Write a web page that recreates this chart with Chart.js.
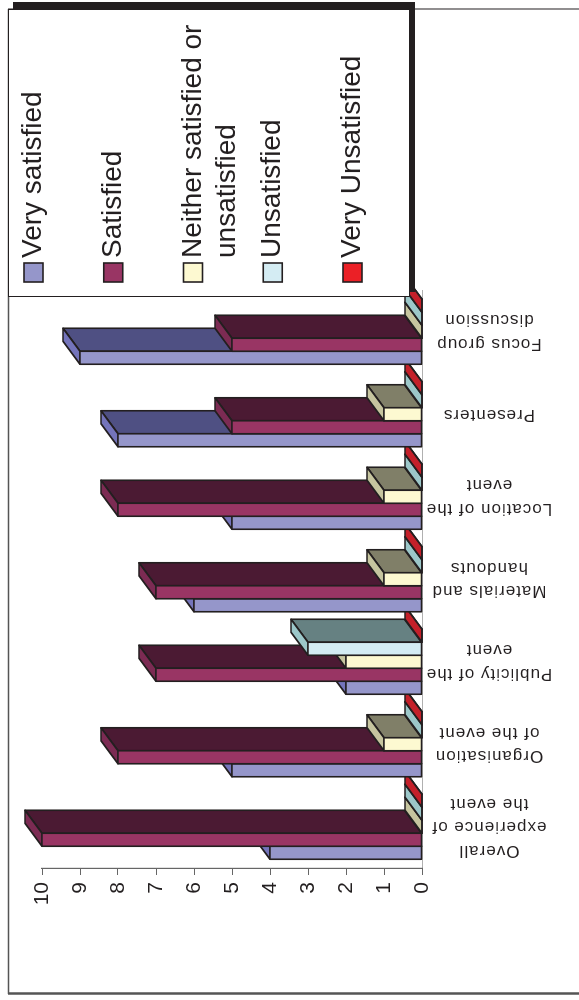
<!DOCTYPE html>
<html>
<head>
<meta charset="utf-8">
<title>Event feedback</title>
<script src="https://cdn.jsdelivr.net/npm/chart.js@4.4.1/dist/chart.umd.min.js"></script>
<style>
  html, body { margin: 0; padding: 0; background: #ffffff; overflow: hidden; }
  #page { position: relative; width: 579px; height: 1000px; overflow: hidden; background: #ffffff; }
  /* the chart is laid out landscape and turned a quarter turn counter-clockwise */
  #chart { position: absolute; left: 0; top: 0; width: 1000px; height: 579px;
           transform-origin: 0 0; transform: translate(0, 1000px) rotate(-90deg); }
</style>
</head>
<body>
<div id="page"><canvas id="chart" width="1000" height="579"></canvas></div>
<script>
// ---- data ----
const categories = [
  ['Overall', 'experience of', 'the event'],
  ['Organisation', 'of the event'],
  ['Publicity of the', 'event'],
  ['Materials and', 'handouts'],
  ['Location of the', 'event'],
  ['Presenters'],
  ['Focus group', 'discussion']
];
const seriesNames = ['Very satisfied', 'Satisfied', 'Neither satisfied or unsatisfied', 'Unsatisfied', 'Very Unsatisfied'];
const verySatisfied    = [4, 5, 2, 6, 5, 8, 9];
const satisfied        = [10, 8, 7, 7, 8, 5, 5];
const neitherSatisfied = [0, 1, 2, 1, 1, 1, 0];
const unsatisfied      = [0, 0, 3, 0, 0, 0, 0];
const veryUnsatisfied  = [0, 0, 0, 0, 0, 0, 0];
const valueTicks = [0, 1, 2, 3, 4, 5, 6, 7, 8, 9, 10];

// ---- styles ----
const FONT = "'Liberation Sans', Arial, Helvetica, sans-serif";
const INK = '#231f20';
const frontColors = ['#9596ca', '#993564', '#fdf9d1', '#d4ecf3', '#eb2026'];
const topColors   = ['#7474bb', '#7c2b53', '#c6c59f', '#9cc7c9', '#c4202a'];
const sideColors  = ['#4f5083', '#4b1a33', '#807f68', '#668182', '#7c1318'];
const DEPTH_X = 23, DEPTH_Y = 17;

const seriesValues = [verySatisfied, satisfied, neitherSatisfied, unsatisfied, veryUnsatisfied];

function fillPoly(ctx, pts, color) {
  ctx.beginPath();
  ctx.moveTo(pts[0][0], pts[0][1]);
  for (let i = 1; i < pts.length; i++) ctx.lineTo(pts[i][0], pts[i][1]);
  ctx.closePath();
  ctx.fillStyle = color;
  ctx.fill();
  ctx.stroke();
}

// white page with the outer frame
const framePlugin = {
  id: 'frame',
  beforeDraw(chart) {
    const ctx = chart.ctx;
    ctx.save();
    ctx.fillStyle = '#ffffff';
    ctx.fillRect(0, 0, chart.width, chart.height);
    ctx.strokeStyle = '#555555';
    ctx.lineWidth = 2.5;
    ctx.beginPath(); ctx.moveTo(6.5, 8); ctx.lineTo(6.5, chart.height); ctx.stroke();
    ctx.lineWidth = 1.5;
    ctx.beginPath(); ctx.moveTo(6, 8.5); ctx.lineTo(991, 8.5); ctx.stroke();
    ctx.strokeStyle = INK;
    ctx.lineWidth = 1;
    ctx.beginPath(); ctx.moveTo(991, 8); ctx.lineTo(991, chart.height); ctx.stroke();
    ctx.restore();
  }
};

// columns drawn as boxes: side face, top face, then front face
const boxBars = {
  id: 'boxBars',
  beforeDatasetDraw() { return false; },
  afterDatasetsDraw(chart) {
    const ctx = chart.ctx;
    const metas = chart.data.datasets.map((d, i) => chart.getDatasetMeta(i));
    ctx.save();
    ctx.lineJoin = 'round';
    ctx.lineWidth = 1.6;
    ctx.strokeStyle = INK;
    for (let c = 0; c < chart.data.labels.length; c++) {
      metas.forEach((meta, s) => {
        const el = meta.data[c];
        if (!el) return;
        const p = el.getProps(['x', 'y', 'base', 'width'], true);
        const l = p.x - p.width / 2, r = p.x + p.width / 2;
        const top = Math.min(p.y, p.base), base = Math.max(p.y, p.base);
        fillPoly(ctx, [[r, top], [r + DEPTH_X, top - DEPTH_Y], [r + DEPTH_X, base - DEPTH_Y], [r, base]], sideColors[s]);
        fillPoly(ctx, [[l, top], [r, top], [r + DEPTH_X, top - DEPTH_Y], [l + DEPTH_X, top - DEPTH_Y]], topColors[s]);
        fillPoly(ctx, [[l, top], [r, top], [r, base], [l, base]], frontColors[s]);
      });
    }
    ctx.restore();
  }
};

// category names, turned and centred under each group
const categoryLabels = {
  id: 'categoryLabels',
  afterDraw(chart, args, o) {
    const ctx = chart.ctx, xs = chart.scales.x;
    ctx.save();
    ctx.font = o.size + 'px ' + FONT;
    if ('letterSpacing' in ctx) ctx.letterSpacing = o.spacing + 'px';
    ctx.fillStyle = INK;
    ctx.textAlign = 'center';
    ctx.textBaseline = 'middle';
    chart.data.labels.forEach((lab, i) => {
      const lines = Array.isArray(lab) ? lab : [lab];
      ctx.save();
      ctx.translate(xs.getPixelForTick(i), chart.chartArea.bottom + o.offset);
      ctx.rotate(-Math.PI / 2);
      lines.forEach((t, k) => ctx.fillText(t, 0, (k - (lines.length - 1) / 2) * o.lineHeight));
      ctx.restore();
    });
    ctx.restore();
  }
};

// boxed legend with a drop shadow
function wrapWords(ctx, text, maxW) {
  const words = text.split(' ');
  const lines = [];
  let cur = '';
  words.forEach(w => {
    const next = cur ? cur + ' ' + w : w;
    if (cur && ctx.measureText(next).width > maxW) { lines.push(cur); cur = w; }
    else cur = next;
  });
  if (cur) lines.push(cur);
  return lines;
}
const legendBox = {
  id: 'legendBox',
  afterDraw(chart, args, o) {
    const ctx = chart.ctx;
    ctx.save();
    ctx.fillStyle = INK;
    ctx.fillRect(o.left + 5, o.top + 5, o.width + 2, o.height);
    ctx.fillStyle = '#ffffff';
    ctx.fillRect(o.left, o.top, o.width, o.height);
    ctx.strokeStyle = INK;
    ctx.lineWidth = 1;
    ctx.strokeRect(o.left + 0.5, o.top + 0.5, o.width - 1, o.height - 1);
    ctx.font = o.size + 'px ' + FONT;
    ctx.textAlign = 'left';
    ctx.textBaseline = 'middle';
    chart.data.datasets.forEach((ds, i) => {
      const bx = o.left + o.padX;
      const by = o.top + o.padY + i * o.step;
      ctx.fillStyle = ds.backgroundColor;
      ctx.fillRect(bx, by, o.box, o.box);
      ctx.lineWidth = 1.6;
      ctx.strokeStyle = INK;
      ctx.strokeRect(bx, by, o.box, o.box);
      ctx.fillStyle = INK;
      const lines = wrapWords(ctx, ds.label, o.textWidth);
      lines.forEach((t, k) => ctx.fillText(t, bx + o.box + o.gap, by + o.box / 2 + k * o.lineHeight));
    });
    ctx.restore();
  }
};

Chart.defaults.font.family = FONT;
Chart.defaults.color = INK;

new Chart(document.getElementById('chart'), {
  type: 'bar',
  data: {
    labels: categories,
    datasets: seriesNames.map((name, i) => ({
      label: name,
      data: seriesValues[i],
      backgroundColor: frontColors[i],
      borderColor: INK,
      borderWidth: 1.6
    }))
  },
  options: {
    responsive: false,
    animation: false,
    events: [],
    layout: { padding: { left: 92, right: 290.5, top: 42, bottom: 151 } },
    datasets: { bar: { categoryPercentage: 0.788, barPercentage: 1 } },
    plugins: {
      legend: { display: false },
      tooltip: { enabled: false },
      categoryLabels: { size: 17, spacing: 1, lineHeight: 23.5, offset: 67 },
      legendBox: { left: 703, top: 8, width: 288, height: 402, padX: 15, padY: 16,
                   step: 79.75, box: 19, gap: 5, size: 28, lineHeight: 34, textWidth: 240 }
    },
    scales: {
      x: {
        offset: true,
        grid: { display: false },
        border: { display: true, color: '#b0b0b0', width: 1 },
        ticks: { display: false },
        afterFit(s) { s.height = 6; }
      },
      y: {
        min: valueTicks[0],
        max: valueTicks[valueTicks.length - 1],
        afterBuildTicks(s) { s.ticks = valueTicks.map(v => ({ value: v })); },
        grid: { display: true, drawOnChartArea: false, drawTicks: true, tickLength: 7, color: '#666666', lineWidth: 1 },
        border: { display: true, color: '#666666', width: 1.2 },
        ticks: { font: { size: 21, family: FONT }, color: INK, padding: 7 },
        afterFit(s) { s.width = 40; }
      }
    }
  },
  plugins: [framePlugin, boxBars, categoryLabels, legendBox]
});
</script>
</body>
</html>
